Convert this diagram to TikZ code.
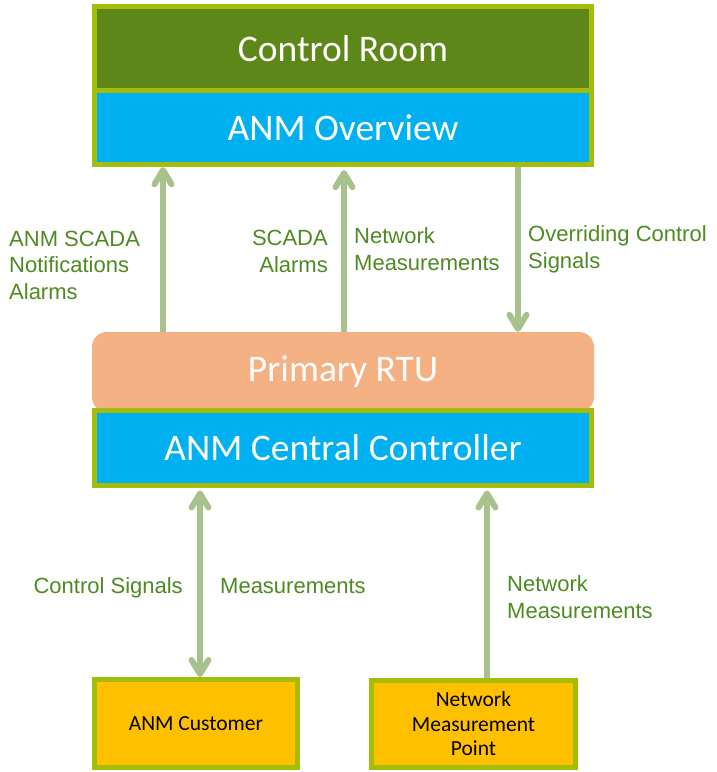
\documentclass[tikz,border=0pt]{standalone}
\usepackage{fontspec}
\setmainfont{Carlito}
\newfontfamily\arialf{Liberation Sans}
\usetikzlibrary{arrows.meta}
\definecolor{borderc}{RGB}{164,188,10}
\definecolor{crgreen}{RGB}{94,135,26}
\definecolor{anmblue}{RGB}{0,176,240}
\definecolor{rtuorange}{RGB}{244,177,131}
\definecolor{boxyellow}{RGB}{255,192,0}
\definecolor{arrowc}{RGB}{169,193,140}
\definecolor{labelc}{RGB}{78,138,33}
\tikzset{
  bigtext/.style={font=\fontsize{37.5}{40}\selectfont, text=white, inner sep=0pt},
  smalltext/.style={font=\fontsize{21.5}{24.5}\selectfont, text=black, inner sep=0pt, align=center},
  border/.style={draw=borderc, line width=5pt},
  leafbox/.style={smalltext, fill=boxyellow, border},
  flow/.style={draw=arrowc, line width=6pt, -{Straight Barb[length=14pt,width=17pt,round]}},
  flowboth/.style={draw=arrowc, line width=6pt, {Straight Barb[length=14pt,width=17pt,round]}-{Straight Barb[length=14pt,width=17pt,round]}},
  lab/.style={font=\arialf\fontsize{22}{26.5}\selectfont, text=labelc, inner sep=0pt},
}
\begin{document}
\begin{tikzpicture}[x=1pt,y=-1pt]
\useasboundingbox (0,0) rectangle (716,772);
% top group
\node[bigtext, fill=crgreen, minimum width=497pt, minimum height=83.5pt] (cr) at (343,48.25) {Control Room};
\node[bigtext, fill=anmblue, minimum width=497pt, minimum height=74.5pt] (ov) at (343,127.25) {ANM Overview};
\draw[border] (cr.north west) rectangle (ov.south east);
\draw[border] (cr.south west) -- (cr.south east);
% middle group
\node[bigtext, fill=rtuorange, rounded corners=15pt, minimum width=502pt, minimum height=80pt] (rtu) at (343,372) {Primary RTU};
\node[bigtext, fill=anmblue, border, minimum width=497pt, minimum height=75pt] (cc) at (343,448) {ANM Central Controller};
% bottom boxes
\node[leafbox, minimum width=203pt, minimum height=88pt] (cust) at (196,723.5) {ANM Customer};
\node[leafbox, minimum width=204pt, minimum height=87pt] (nmp) at (473.5,724) {Network\\Measurement\\Point};
% arrow x positions
\coordinate (xa) at (163,0);
\coordinate (xb) at (344,0);
\coordinate (xc) at (518,0);
\coordinate (xd) at (200,0);
\coordinate (xe) at (487,0);
\draw[flow] (rtu.north -| xa) -- ([yshift=-2.5pt]ov.south -| xa);
\draw[flow] (rtu.north -| xb) -- ([yshift=-5.5pt]ov.south -| xb);
\draw[flow] ([yshift=-2.5pt]ov.south -| xc) -- (rtu.north -| xc);
\draw[flowboth] ([yshift=-2.5pt]cc.south -| xd) -- (cust.north -| xd);
\draw[flow] (nmp.north -| xe) -- ([yshift=-2.5pt]cc.south -| xe);
% labels (base anchor = last line)
\node[lab, anchor=base west, align=left] (l1) at (9,299) {ANM SCADA\\Notifications\\Alarms};
\node[lab, anchor=base east, align=right] (l2) at (328,272) {SCADA\\Alarms};
\node[lab, anchor=base west, align=left] (l3) at (354,270) {Network\\Measurements};
\node[lab, anchor=base west, align=left] (l4) at (528,268) {Overriding Control\\Signals};
\node[lab, anchor=base east] (l5) at (183,593) {Control Signals};
\node[lab, anchor=base west] (l6) at (220,593) {Measurements};
\node[lab, anchor=base west, align=left] (l7) at (507,618) {Network\\Measurements};
\end{tikzpicture}
\end{document}
